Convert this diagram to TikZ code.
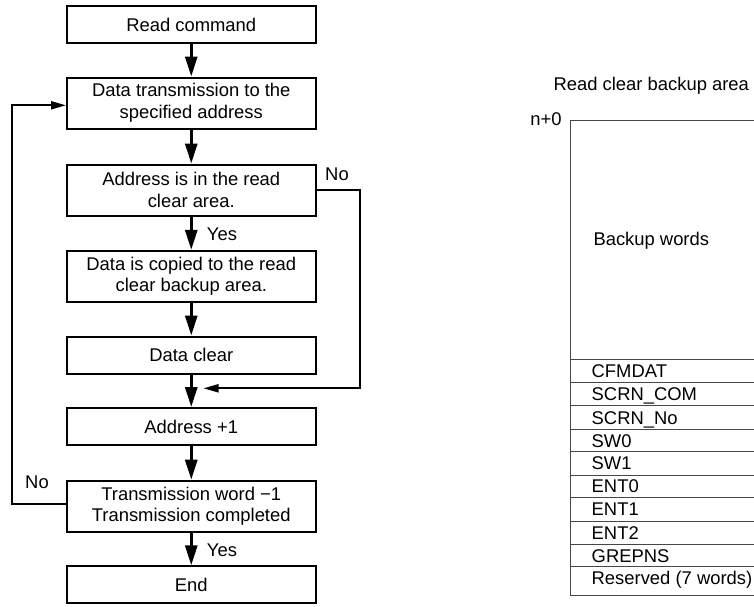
\documentclass[tikz,border=0pt]{standalone}
\usepackage{fontspec}
\setmainfont{Liberation Sans}
\usetikzlibrary{arrows.meta}
\begin{document}
\begin{tikzpicture}[x=1pt,y=-1pt,
  every node/.style={font=\fontsize{18.4}{21.7}\selectfont, inner sep=0pt},
  fbox/.style={draw, line width=2pt, minimum width=248.5pt, align=center},
  single/.style={fbox, minimum height=37pt},
  double/.style={fbox, minimum height=51pt},
  varrow/.style={line width=3pt, -{Triangle[length=20pt,width=12pt]}},
  harrow/.style={line width=2pt, -{Triangle[length=15pt,width=8pt]}},
  tline/.style={draw=black!72, line width=1pt},
  rowtext/.style={anchor=base west}
]
\useasboundingbox (0,0) rectangle (754,606);

% flowchart boxes
\node[single] (b1) at (191.25,24.5) {Read command};
\node[double] (b2) at (191.25,103) {Data transmission to the\\specified address};
\node[double] (b3) at (191.25,190) {Address is in the read\\clear area.};
\node[double] (b4) at (191.25,276.3) {Data is copied to the read\\clear backup area.};
\node[single] (b5) at (191.25,355) {Data clear};
\node[single] (b6) at (191.25,426.5) {Address +1};
\node[double] (b7) at (191.25,506.2) {Transmission word −1\\Transmission completed};
\node[single] (b8) at (191.25,584.8) {End};

% straight arrows
\draw[varrow] (b1.south) -- (b2.north);
\draw[varrow] (b2.south) -- (b3.north);
\draw[varrow] (b3.south) -- (b4.north);
\draw[varrow] (b4.south) -- (b5.north);
\draw[varrow] (b5.south) -- (b6.north);
\draw[varrow] (b6.south) -- (b7.north);
\draw[varrow] (b7.south) -- (b8.north);

% loops
\coordinate (noend) at (203.5,388.3);
\draw[harrow] (b3.east) -- ++(43,0) |- (noend);
\draw[harrow] ([yshift=2.6pt]b7.west) -- ++(-54,0) |- ([yshift=-2.3pt]b2.west);

% labels
\node (no1) at (337,174) {No};
\node (yes1) at (222,234.5) {Yes};
\node (no2) at (37,482) {No};
\node (yes2) at (222,550) {Yes};

% backup area table
\node[anchor=base] (title) at (651.3,90.4) {Read clear backup area};
\node[anchor=base east] (n0) at (561.7,125.7) {n+0};
\draw[tline] (754,120) -- (570,120) -- (570,595.3) -- (754,595.3);
\foreach \y in {359,382.3,405.7,429.3,451.7,475,497.7,521,544.3,566.7}
  \draw[tline] (570,\y) -- (754,\y);
\node[rowtext] (bw) at (593.3,245.6) {Backup words};
\node[rowtext] (r1) at (591.5,377.2) {CFMDAT};
\node[rowtext] (r2) at (591.5,400.5) {SCRN\_COM};
\node[rowtext] (r3) at (591.5,424) {SCRN\_No};
\node[rowtext] (r4) at (591.5,447) {SW0};
\node[rowtext] (r5) at (591.5,469.9) {SW1};
\node[rowtext] (r6) at (591.5,492.9) {ENT0};
\node[rowtext] (r7) at (591.5,515.9) {ENT1};
\node[rowtext] (r8) at (591.5,539.2) {ENT2};
\node[rowtext] (r9) at (591.5,562) {GREPNS};
\node[rowtext] (r10) at (591.5,584.5) {Reserved (7 words)};
\end{tikzpicture}
\end{document}
